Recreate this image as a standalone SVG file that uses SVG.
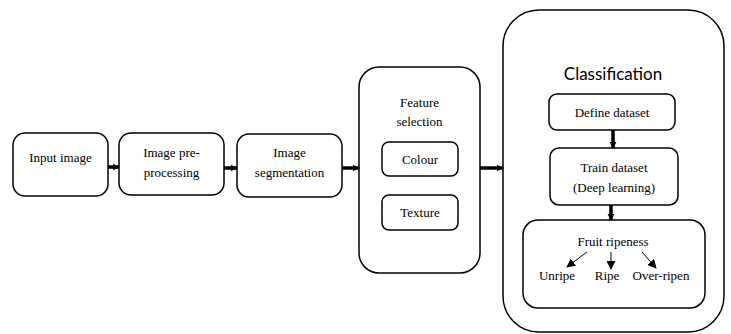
<svg xmlns="http://www.w3.org/2000/svg" width="731" height="334" viewBox="0 0 731 334">
<defs>
<style>
.box{fill:#fff;stroke:#000;stroke-width:1.5}
text{font-family:'Liberation Serif',serif;font-size:13px;fill:#000;text-anchor:middle}
.c{stroke:#000;fill:none}
.thick{stroke-width:3.5}
.thin{stroke-width:1}
</style>
<marker id="ah" viewBox="0 0 10 10" refX="9" refY="5" markerWidth="2" markerHeight="2.2" orient="auto" markerUnits="strokeWidth"><path d="M0,0 L10,5 L0,10 z" fill="#000"/></marker>
<marker id="ahs" viewBox="0 0 10 10" refX="9" refY="5" markerWidth="9" markerHeight="9" orient="auto" markerUnits="userSpaceOnUse"><path d="M0,0 L10,5 L0,10 z" fill="#000"/></marker>
</defs>
<rect width="731" height="334" fill="#fff"/>
<g id="input-image"><rect class="box" x="13" y="133" width="95" height="63" rx="12"/><text x="60.5" y="162">Input image</text></g>
<g id="preprocessing"><rect class="box" x="119" y="133" width="105" height="62" rx="12"/><text x="171.5" y="157">Image pre-</text><text x="171.5" y="177">processing</text></g>
<g id="segmentation"><rect class="box" x="237" y="134" width="105" height="63" rx="12"/><text x="289.5" y="157">Image</text><text x="289.5" y="177">segmentation</text></g>
<g id="feature-selection"><rect class="box" x="359" y="67" width="121" height="206" rx="20"/><text x="419.5" y="107">Feature</text><text x="419.5" y="126">selection</text></g>
<g id="colour"><rect class="box" x="382" y="142" width="76" height="34" rx="7"/><text x="420" y="164">Colour</text></g>
<g id="texture"><rect class="box" x="382" y="195" width="76" height="35" rx="7"/><text x="420" y="217">Texture</text></g>
<g id="classification"><rect class="box" x="503" y="10" width="221" height="322" rx="36"/><text x="613" y="80" style="font-family:Lato,'Open Sans',sans-serif;font-size:17px">Classification</text></g>
<g id="define-dataset"><rect class="box" x="549" y="94" width="126" height="36" rx="8"/><text x="612" y="117">Define dataset</text></g>
<g id="train-dataset"><rect class="box" x="550" y="148" width="128" height="57" rx="9"/><text x="614" y="172">Train dataset</text><text x="614" y="192">(Deep learning)</text></g>
<g id="fruit-ripeness"><rect class="box" x="523" y="220" width="182" height="88" rx="15"/><text x="613" y="246">Fruit ripeness</text><text x="557" y="280">Unripe</text><text x="607" y="280">Ripe</text><text x="661" y="280">Over-ripen</text></g>
<g id="connectors">
<line class="c thick" x1="108" y1="167" x2="119" y2="167" marker-end="url(#ah)"/>
<line class="c thick" x1="224" y1="168" x2="237" y2="168" marker-end="url(#ah)"/>
<line class="c thick" x1="342" y1="168" x2="359" y2="168" marker-end="url(#ah)"/>
<line class="c thick" x1="480" y1="168" x2="503" y2="168" marker-end="url(#ah)"/>
<line class="c thick" x1="613" y1="130" x2="613" y2="148" marker-end="url(#ah)"/>
<line class="c thick" x1="611" y1="205" x2="611" y2="220" marker-end="url(#ah)"/>
<line class="c thin" x1="587" y1="252" x2="567" y2="267" marker-end="url(#ahs)"/>
<line class="c thin" x1="611" y1="252" x2="611" y2="269" marker-end="url(#ahs)"/>
<line class="c thin" x1="642" y1="252" x2="656" y2="268" marker-end="url(#ahs)"/>
</g>
</svg>
